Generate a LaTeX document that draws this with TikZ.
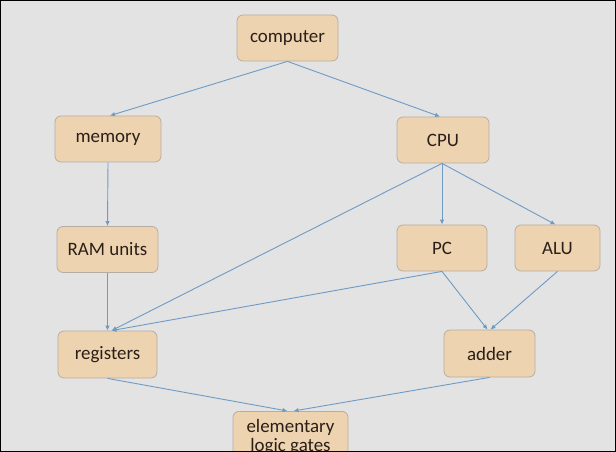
\documentclass[tikz,border=0pt]{standalone}
\usepackage{fontspec}
\setmainfont{Carlito}
\usetikzlibrary{arrows.meta}
\definecolor{bgc}{HTML}{E3E3E3}
\definecolor{boxfill}{HTML}{EDD3AF}
\definecolor{boxline}{HTML}{B8ADA2}
\definecolor{edgec}{HTML}{6E9BC6}
\definecolor{txt}{HTML}{2A1F18}
\begin{document}
\begin{tikzpicture}[x=1bp,y=-1bp,
  box/.style={draw=boxline,line width=0.8bp,fill=boxfill,rounded corners=6bp,
    text=txt,font=\fontsize{19}{19}\selectfont,inner sep=0pt,align=center},
  conn/.style={draw=edgec,line width=0.9bp,-{Latex[length=5bp,width=4.5bp]}}]
\useasboundingbox (0,0) rectangle (616,452);
\fill[bgc] (0,0) rectangle (616,452);
\begin{scope}
\clip (0,0) rectangle (616,452);
\node[box,minimum width=101bp,minimum height=46bp] (comp) at (287.5,38) {computer};
\node[box,minimum width=106bp,minimum height=46bp] (mem) at (108,139) {memory};
\node[box,minimum width=92bp,minimum height=46bp] (cpu) at (443,140) {CPU};
\node[box,minimum width=101bp,minimum height=46bp] (ram) at (107.5,249.5) {RAM units};
\node[box,minimum width=90bp,minimum height=46bp] (pc) at (442,248) {PC};
\node[box,minimum width=85bp,minimum height=46bp] (alu) at (557.5,248) {ALU};
\node[box,minimum width=99bp,minimum height=47bp] (reg) at (107.5,354.5) {registers};
\node[box,minimum width=91bp,minimum height=47bp] (add) at (489.5,353.5) {adder};
\node[box,minimum width=115bp,minimum height=52bp,anchor=north] (gates) at (290.5,411) {elementary\\logic gates};
\end{scope}
\draw[conn] (comp.south) -- ([xshift=2bp]mem.north);
\draw[conn] (comp.south) -- ([xshift=-3bp]cpu.north);
\draw[conn] (mem.south) -- (ram.north);
\draw[conn] (ram.south) -- (reg.north);
\draw[conn] ([xshift=-1bp]cpu.south) -- ([xshift=4bp]reg.north);
\draw[conn] ([xshift=-1bp]cpu.south) -- (pc.north);
\draw[conn] ([xshift=-1bp]cpu.south) -- ([xshift=-2bp]alu.north);
\draw[conn] (pc.south) -- ([xshift=4bp]reg.north);
\draw[conn] (pc.south) -- ([xshift=-2bp]add.north);
\draw[conn] (alu.south) -- ([xshift=1bp]add.north);
\draw[conn] (reg.south) -- ([xshift=-3bp]gates.north);
\draw[conn] (add.south) -- ([xshift=3bp]gates.north);
\draw[black,line width=2bp] (0,0) rectangle (616,452);
\end{tikzpicture}
\end{document}
